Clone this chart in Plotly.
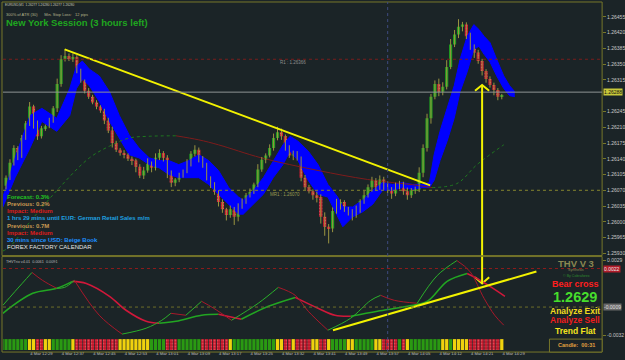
import plotly.graph_objects as go

W, H = 625, 360
BG = "#1b2427"
FONT = "Liberation Sans"

# ---------------- data ----------------
first_minute = -1
first_open = 1.26080
closes = [
    1.26098, 1.26131, 1.26164, 1.26147, 1.26186, 1.26219, 1.26256, 1.26219, 1.26190, 1.26208,
    1.26212, 1.26225, 1.26252, 1.26306, 1.26361, 1.26368, 1.26361, 1.26366, 1.26335, 1.26313,
    1.26291, 1.26278, 1.26265, 1.26256, 1.26247, 1.26225, 1.26203, 1.26175, 1.26160, 1.26153,
    1.26149, 1.26140, 1.26136, 1.26122, 1.26103, 1.26114, 1.26129, 1.26120, 1.26142, 1.26153,
    1.26142, 1.26109, 1.26087, 1.26094, 1.26103, 1.26112, 1.26131, 1.26151, 1.26160, 1.26142,
    1.26125, 1.26098, 1.26083, 1.26066, 1.26044, 1.26028, 1.26015, 1.26028, 1.26011, 1.26037,
    1.26046, 1.26059, 1.26066, 1.26083, 1.26116, 1.26138, 1.26147, 1.26164, 1.26186, 1.26199,
    1.26190, 1.26164, 1.26147, 1.26153, 1.26142, 1.26098, 1.26077, 1.26068, 1.26059, 1.26055,
    1.26011, 1.25989, 1.25985, 1.26024, 1.26037, 1.26044, 1.26028, 1.26022, 1.26015, 1.26028,
    1.26046, 1.26059, 1.26077, 1.26092, 1.26077, 1.26094, 1.26081, 1.26072, 1.26063, 1.26077,
    1.26085, 1.26068, 1.26059, 1.26070, 1.26072, 1.26109, 1.26164, 1.26230, 1.26278, 1.26306,
    1.26289, 1.26300, 1.26344, 1.26394, 1.26416, 1.26433, 1.26438, 1.26412, 1.26390, 1.26376,
    1.26357, 1.26335, 1.26317, 1.26304, 1.26293, 1.26278, 1.26280,
]
wick_hi = [  # points (0.00001) above body
    5, 8, 6, 4, 7, 5, 10, 4, 6, 5,
    4, 6, 5, 12, 9, 15, 6, 8, 4, 5,
    3, 6, 4, 5, 3, 4, 6, 8, 5, 4,
    6, 3, 5, 4, 6, 8, 12, 5, 10, 8,
    4, 6, 5, 3, 6, 4, 8, 6, 10, 5,
    4, 6, 3, 5, 4, 6, 3, 8, 5, 4,
    6, 5, 8, 4, 12, 6, 5, 8, 10, 12,
    8, 4, 6, 5, 4, 3, 6, 5, 4, 8,
    6, 10, 6, 8, 14, 6, 4, 5, 6, 8,
    4, 10, 6, 8, 5, 9, 6, 8, 5, 10,
    6, 4, 8, 5, 6, 12, 8, 10, 6, 8,
    12, 10, 15, 12, 10, 17, 6, 5, 8, 4,
    6, 5, 4, 6, 5, 4, 4,
]
wick_lo = [  # points below body
    8, 5, 6, 10, 5, 4, 6, 12, 8, 5,
    6, 4, 5, 8, 6, 5, 4, 6, 5, 4,
    6, 5, 4, 6, 5, 8, 6, 10, 5, 6,
    8, 5, 10, 12, 6, 8, 5, 10, 6, 5,
    8, 12, 10, 8, 6, 5, 4, 8, 6, 10,
    5, 6, 8, 6, 10, 8, 12, 6, 18, 10,
    8, 6, 5, 4, 6, 5, 8, 4, 6, 5,
    8, 6, 5, 10, 6, 8, 6, 5, 10, 12,
    15, 20, 33, 8, 6, 10, 6, 8, 12, 6,
    8, 6, 5, 10, 8, 6, 10, 8, 12, 6,
    5, 8, 10, 6, 8, 6, 10, 8, 12, 6,
    10, 8, 6, 5, 6, 8, 10, 6, 8, 12,
    6, 10, 8, 6, 12, 8, 6,
]

band_t = [-1.8, 1.3, 5.1, 8.1, 11.9, 15.2, 16.9, 18.4, 20.2, 22.7, 25.3, 27.8, 30.3, 32.8, 35.4,
          37.9, 40.4, 42.9, 45.5, 48.0, 50.5, 53.0, 55.6, 58.1, 59.3, 61.9, 64.4, 66.9, 69.4, 71.2,
          73.2, 75.8, 78.3, 80.8, 83.3, 84.6, 87.1, 89.6, 92.2, 94.7, 97.2, 99.7, 102.3, 104.8, 106.6,
          107.8, 109.3, 111.1, 112.9, 114.4, 116.2, 117.9, 119.2, 120.5, 122.0, 123.7, 125.5, 127.0, 128.3]
band_hi = [1.26055, 1.26142, 1.26236, 1.26252, 1.26230, 1.26296, 1.26346, 1.26357, 1.26339, 1.26324,
           1.26289, 1.26236, 1.26193, 1.26164, 1.26142, 1.26136, 1.26136, 1.26127, 1.26136, 1.26149,
           1.26136, 1.26114, 1.26076, 1.26055, 1.26048, 1.26070, 1.26098, 1.26136, 1.26171, 1.26190,
           1.26179, 1.26157, 1.26127, 1.26083, 1.26055, 1.26033, 1.26033, 1.26048, 1.26070, 1.26087,
           1.26083, 1.26087, 1.26083, 1.26083, 1.26087, 1.26149, 1.26201, 1.26252, 1.26302, 1.26361,
           1.26412, 1.26438, 1.26427, 1.26412, 1.26398, 1.26361, 1.26324, 1.26302, 1.26289]
band_lo = [1.26033, 1.26098, 1.26164, 1.26223, 1.26201, 1.26236, 1.26296, 1.26317, 1.26302, 1.26267,
           1.26223, 1.26186, 1.26149, 1.26142, 1.26127, 1.26120, 1.26105, 1.26098, 1.26098, 1.26098,
           1.26083, 1.26061, 1.26039, 1.26017, 1.26017, 1.26039, 1.26061, 1.26098, 1.26127, 1.26157,
           1.26136, 1.26092, 1.26061, 1.26055, 1.26011, 1.25989, 1.26011, 1.26022, 1.26039, 1.26070,
           1.26070, 1.26076, 1.26072, 1.26076, 1.26076, 1.26092, 1.26136, 1.26179, 1.26230, 1.26289,
           1.26333, 1.26383, 1.26390, 1.26372, 1.26355, 1.26324, 1.26296, 1.26280, 1.26278]

ma_t = [-1.8, 0, 5.1, 12.6, 20.2, 25.3, 30.3, 35.4, 42.2, 48.0, 53.0, 63.9, 78.3, 90.9, 103.5, 107.3,
        113.6, 118.7, 125.5]
ma_v = [1.25935, 1.25945, 1.26000, 1.26076, 1.26142, 1.26168, 1.26186, 1.26190, 1.26191, 1.26182,
        1.26171, 1.26142, 1.26114, 1.26094, 1.26081, 1.26076, 1.26085, 1.26127, 1.26171]

trend_t = [13.9, 106.8]
trend_p = [1.26383, 1.26081]

R1 = 1.26366
R1_LINE = 1.26361
MR1 = 1.26070
BID_LINE = 1.26288
VLINE_T = 96

ARROW_T = 120.0
ARROW_TOP = 1.26304
ARROW_BOT = 0.00103

price_ticks = [1.26455, 1.26420, 1.26385, 1.26350, 1.26315, 1.26245, 1.26210, 1.26175,
               1.26140, 1.26105, 1.26070, 1.26035, 1.26000, 1.25965, 1.25930]

fast_t = [-1.8, 1.3, 5.6, 8.3, 11.9, 13.9, 16.4, 22.7, 28.5, 34.6, 38.6, 40.9, 44.7, 48.7, 51.8,
          56.3, 63.1, 68.2, 72.5, 75.8, 80.8, 86.6, 91.7, 94.2, 97.7, 103.5, 108.6, 113.6, 116.9,
          120.5, 123.2, 125.5]
fast_v = [-0.00076, 0.00038, 0.00193, 0.00128, 0.00063, 0.00071, 0.00128, -0.00157, -0.00311,
          -0.00263, -0.00198, -0.00141, -0.00157, -0.00043, -0.00100, -0.00198, -0.00059, 0.00071,
          0.00006, -0.00124, -0.00279, -0.00181, -0.00035, 0.00006, -0.00035, -0.00059, 0.00168,
          0.00290, 0.00201, -0.00019, -0.00157, -0.00238]
slow_t = [-1.8, 5.8, 11.9, 15.9, 19.4, 25.3, 29.5, 34.6, 37.9, 42.2, 48.7, 53.0, 58.8, 65.7, 72.5,
          78.3, 82.6, 86.6, 93.4, 101.0, 106.1, 111.1, 116.2, 118.7, 122.0, 125.8]
slow_v = [-0.00141, 0.00022, 0.00063, 0.00120, 0.00103, -0.00002, -0.00116, -0.00206, -0.00222,
          -0.00206, -0.00157, -0.00149, -0.00189, -0.00084, -0.00011, -0.00100, -0.00157, -0.00165,
          -0.00124, -0.00084, -0.00043, 0.00120, 0.00185, 0.00144, 0.00079, -0.00002]
ind_trend_t = [82.1, 133.8]
ind_trend_v = [-0.00279, 0.00201]
IND_RED_LEVEL = 0.00225
IND_OLIVE_LEVEL = -0.0009
ind_ticks = [0.0029, -0.0032]

bar_first_minute = -2
bar_runs = [("G", 7), ("Y", 2), ("R", 2), ("Y", 2), ("G", 5), ("Y", 1), ("R", 11), ("Y", 8),
            ("G", 4), ("R", 3), ("G", 6), ("R", 7), ("Y", 1), ("G", 11), ("Y", 2), ("R", 2),
            ("Y", 1), ("R", 4), ("Y", 2), ("R", 2), ("Y", 1), ("G", 4), ("Y", 2), ("G", 5),
            ("Y", 2), ("R", 4), ("G", 1), ("R", 1), ("Y", 1), ("G", 8), ("Y", 2), ("G", 1),
            ("Y", 4), ("R", 8), ("Y", 1)]

label_t = [0, 8, 16, 24, 32, 40, 48, 56, 64, 72, 80, 88, 96, 104, 112, 120, 128]
label_text = ["4 Mar 2009", "4 Mar 12:29", "4 Mar 12:37", "4 Mar 12:45", "4 Mar 12:53",
              "4 Mar 13:01", "4 Mar 13:09", "4 Mar 13:17", "4 Mar 13:25", "4 Mar 13:32",
              "4 Mar 13:41", "4 Mar 13:49", "4 Mar 13:57", "4 Mar 14:05", "4 Mar 14:12",
              "4 Mar 14:21", "4 Mar 14:29"]

# ---------------- geometry helpers ----------------
def px(x):
    return x / W

def py(y):
    return 1 - y / H

X_RANGE = [-1.77, 150.5]
Y_RANGE = [1.25925, 1.26486]
Y2_RANGE = [-0.003276, 0.003228]
XDOM = [px(3), px(606)]

fig = go.Figure()

def segs(t, v, up_c, dn_c, width, xa, ya, up_dash="solid", dn_dash="solid", shape="linear"):
    out = []
    i, n = 0, len(t)
    while i < n - 1:
        up = v[i + 1] >= v[i]
        j = i + 1
        while j < n - 1 and (v[j + 1] >= v[j]) == up:
            j += 1
        out.append(go.Scatter(x=t[i:j + 1], y=v[i:j + 1], mode="lines", xaxis=xa, yaxis=ya,
                              line=dict(color=up_c if up else dn_c, width=width,
                                        dash=up_dash if up else dn_dash, shape=shape),
                              hoverinfo="skip", showlegend=False))
        i = j
    return out

# blue band
fig.add_trace(go.Scatter(x=band_t, y=band_lo, mode="lines", line=dict(color="#0000ff", width=1),
                         hoverinfo="skip", showlegend=False))
fig.add_trace(go.Scatter(x=band_t, y=band_hi, mode="lines", line=dict(color="#0000ff", width=1),
                         fill="tonexty", fillcolor="#0000ff", hoverinfo="skip", showlegend=False))

# moving average
for tr in segs(ma_t, ma_v, "#1f7a1f", "#7e1c1c", 1, "x", "y", up_dash="dot", shape="spline"):
    fig.add_trace(tr)

# candles
minutes = list(range(first_minute, first_minute + len(closes)))
opens = [first_open] + closes[:-1]
highs = [max(o, c) + w * 1e-5 for o, c, w in zip(opens, closes, wick_hi)]
lows = [min(o, c) - w * 1e-5 for o, c, w in zip(opens, closes, wick_lo)]
wx, wy = [], []
for m, lo, hi in zip(minutes, lows, highs):
    wx += [m, m, None]
    wy += [lo, hi, None]
fig.add_trace(go.Scatter(x=wx, y=wy, mode="lines", line=dict(color="#9a9440", width=1),
                         hoverinfo="skip", showlegend=False))

up = [(m, o, c) for m, o, c in zip(minutes, opens, closes) if c >= o]
dn = [(m, o, c) for m, o, c in zip(minutes, opens, closes) if c < o]
fig.add_trace(go.Bar(x=[u[0] for u in up], base=[u[1] for u in up],
                     y=[max(u[2] - u[1], 0.000015) for u in up], width=0.8,
                     marker=dict(color="#20a020", line=dict(width=0)),
                     hoverinfo="skip", showlegend=False))
fig.add_trace(go.Bar(x=[d[0] for d in dn], base=[d[2] for d in dn],
                     y=[max(d[1] - d[2], 0.000015) for d in dn], width=0.8,
                     marker=dict(color="#d0162e", line=dict(width=0),
                                 pattern=dict(shape=".", fgcolor="#ff9090", size=3, solidity=0.2,
                                              fillmode="overlay")),
                     hoverinfo="skip", showlegend=False))

# trend line
fig.add_trace(go.Scatter(x=trend_t, y=trend_p, mode="lines", line=dict(color="#f2f200", width=2),
                         hoverinfo="skip", showlegend=False))

# arrow chevrons
fig.add_trace(go.Scatter(x=[ARROW_T - 1.8, ARROW_T, ARROW_T + 1.8],
                         y=[ARROW_TOP - 0.00013, ARROW_TOP, ARROW_TOP - 0.00013],
                         mode="lines", line=dict(color="#f2f200", width=2),
                         hoverinfo="skip", showlegend=False))
fig.add_trace(go.Scatter(x=[ARROW_T - 1.8, ARROW_T, ARROW_T + 1.8],
                         y=[ARROW_BOT + 0.0005, ARROW_BOT, ARROW_BOT + 0.0005],
                         xaxis="x2", yaxis="y2",
                         mode="lines", line=dict(color="#f2f200", width=2),
                         hoverinfo="skip", showlegend=False))

# indicator lines
for tr in segs(slow_t, slow_v, "#22a622", "#d0183a", 1.6, "x2", "y2", shape="spline"):
    fig.add_trace(tr)
for tr in segs(fast_t, fast_v, "#2bb02b", "#a8182a", 1, "x2", "y2", shape="spline"):
    fig.add_trace(tr)
fig.add_trace(go.Scatter(x=ind_trend_t, y=ind_trend_v, mode="lines", xaxis="x2", yaxis="y2",
                         line=dict(color="#f2f200", width=2), hoverinfo="skip", showlegend=False))

# colour bar row
states = []
for s, n in bar_runs:
    states += [s] * n
bar_t = list(range(bar_first_minute, bar_first_minute + len(states)))
for code, col in (("G", "#2a9a12"), ("Y", "#f0d20e")):
    xs = [t for t, s in zip(bar_t, states) if s == code]
    fig.add_trace(go.Bar(x=xs, y=[1] * len(xs), base=0, width=0.82, xaxis="x3", yaxis="y3",
                         marker=dict(color=col, line=dict(width=0)),
                         hoverinfo="skip", showlegend=False))
xs = [t for t, s in zip(bar_t, states) if s == "R"]
fig.add_trace(go.Bar(x=xs, y=[1] * len(xs), base=0, width=0.82, xaxis="x3", yaxis="y3",
                     marker=dict(color="#c01428", line=dict(width=0),
                                 pattern=dict(shape=".", fgcolor="#ff8c8c", size=3, solidity=0.3,
                                              fillmode="overlay")),
                     hoverinfo="skip", showlegend=False))

# ---------------- shapes ----------------
OLIVE = "#77772a"
shapes = [
    dict(type="rect", xref="paper", yref="paper", x0=px(2), x1=px(606), y0=py(257), y1=py(2),
         line=dict(color=OLIVE, width=1)),
    dict(type="rect", xref="paper", yref="paper", x0=px(2), x1=px(606), y0=py(354), y1=py(258),
         line=dict(color=OLIVE, width=1)),
    dict(type="line", xref="x domain", yref="y", x0=0, x1=1, y0=R1_LINE, y1=R1_LINE,
         line=dict(color="#7a1c1c", width=1, dash="dot")),
    dict(type="line", xref="x domain", yref="y", x0=0, x1=1, y0=MR1, y1=MR1,
         line=dict(color="#86862e", width=1, dash="dot")),
    dict(type="line", xref="x domain", yref="y", x0=0, x1=1, y0=BID_LINE, y1=BID_LINE,
         line=dict(color="#8e9494", width=1)),
    dict(type="line", xref="x", yref="paper", x0=VLINE_T, x1=VLINE_T, y0=py(354), y1=py(2),
         line=dict(color="#3e4a80", width=1, dash="dot")),
    dict(type="line", xref="x2 domain", yref="y2", x0=0, x1=1, y0=IND_RED_LEVEL, y1=IND_RED_LEVEL,
         line=dict(color="#8e1c1c", width=1, dash="dot")),
    dict(type="line", xref="x2 domain", yref="y2", x0=0, x1=1, y0=IND_OLIVE_LEVEL, y1=IND_OLIVE_LEVEL,
         line=dict(color="#6e6e28", width=1, dash="dot")),
    dict(type="line", xref="x", yref="y", x0=ARROW_T, x1=ARROW_T, y0=ARROW_TOP, y1=Y_RANGE[0],
         line=dict(color="#f2f200", width=2)),
    dict(type="line", xref="x2", yref="y2", x0=ARROW_T, x1=ARROW_T, y0=ARROW_BOT, y1=Y2_RANGE[1],
         line=dict(color="#f2f200", width=2)),
    dict(type="rect", xref="paper", yref="paper", x0=px(553), x1=px(606), y0=py(354), y1=py(341),
         line=dict(color=OLIVE, width=1), fillcolor=BG),
]

# ---------------- annotations ----------------
def txt(x, y, s, size, color, bold=False, xanchor="left"):
    return dict(x=px(x), y=py(y), xref="paper", yref="paper", showarrow=False,
                text=f"<b>{s}</b>" if bold else s, xanchor=xanchor, yanchor="middle",
                font=dict(size=size, color=color, family=FONT))

GREEN_T = "#22c322"
TAN = "#c89a52"
RED_T = "#dd1c1c"
ann = [
    txt(3, 5, "EURUSD,M1  1.26277 1.26280 1.26277 1.26280", 3.2, "#c8c8b4"),
    txt(4, 15, "300% of ATR (30)      Min. Stop Loss:   12 pips", 4, "#b4b48c"),
    txt(4, 23, "New York Session (3 hours left)", 9.5, "#1fa61f", bold=True),
    txt(5, 198, "Forecast: 0.3%", 6, GREEN_T, bold=True),
    txt(5, 205, "Previous: 0.2%", 6, TAN, bold=True),
    txt(5, 212, "Impact: Medium", 6, RED_T, bold=True),
    txt(5, 219, "1 hrs 29 mins until EUR: German Retail Sales m/m", 6, "#1ea0e0", bold=True),
    txt(5, 227, "Previous: 0.7M", 6, TAN, bold=True),
    txt(5, 234, "Impact: Medium", 6, RED_T, bold=True),
    txt(5, 241, "30 mins since USD: Beige Book", 6, "#1e90ff", bold=True),
    txt(5, 248, "FOREX FACTORY CALENDAR", 6, "#e4e4e4"),
    txt(4, 263, "THVTrix v4.01  0.0061  0.0091", 3.8, "#b8b8b8"),
    txt(580, 265, "THV V 3", 9.5, "#8a8852", bold=True, xanchor="center"),
    txt(580, 272, "Synthesis", 3.6, "#8a8852", xanchor="center"),
    txt(580, 277.5, "© By Cobraforex", 3.6, "#2e8b2e", xanchor="center"),
    txt(579, 285.5, "Bear cross", 9, "#ff1e1e", bold=True, xanchor="center"),
    txt(579, 299, "1.2629", 14.5, "#46de2c", bold=True, xanchor="center"),
    txt(579, 313, "Analyze Exit", 8.5, "#f2da1e", bold=True, xanchor="center"),
    txt(579, 322, "Analyze Sell", 8.5, "#ee1c1c", bold=True, xanchor="center"),
    txt(579, 333, "Trend Flat", 8.5, "#f4e41e", bold=True, xanchor="center"),
    txt(580, 347, "Candle:  00:31", 5.5, "#e2a040", bold=True, xanchor="center"),
    dict(x=72, y=R1_LINE, xref="x", yref="y", showarrow=False, text=f"R1 : {R1:.5f}",
         yshift=-3, font=dict(size=4.5, color="#8e8e8e", family=FONT)),
    dict(x=70, y=MR1, xref="x", yref="y", showarrow=False, text=f"MR1 : {MR1:.5f}",
         yshift=-4, font=dict(size=4.5, color="#9a9a52", family=FONT)),
    dict(x=px(607), y=BID_LINE, xref="paper", yref="y", showarrow=False, text=f"{BID_LINE:.5f}",
         xanchor="left", bgcolor="#c8c83a", borderpad=0,
         font=dict(size=5, color="#101010", family=FONT)),
    dict(x=px(607), y=IND_RED_LEVEL, xref="paper", yref="y2", showarrow=False,
         text=f"{IND_RED_LEVEL:.4f}", xanchor="left", bgcolor="#b01c2a", borderpad=0,
         font=dict(size=5, color="#e8e8e8", family=FONT)),
    dict(x=px(607), y=IND_OLIVE_LEVEL, xref="paper", yref="y2", showarrow=False,
         text=f"{IND_OLIVE_LEVEL:.4f}", xanchor="left", bgcolor="#686868", borderpad=0,
         font=dict(size=5, color="#e0e0e0", family=FONT)),
]

tickfont = dict(size=5, color="#c8c8c8", family=FONT)
fig.update_layout(
    width=W, height=H, margin=dict(l=0, r=0, t=0, b=0),
    paper_bgcolor=BG, plot_bgcolor=BG, barmode="overlay", showlegend=False,
    xaxis=dict(domain=XDOM, range=X_RANGE, anchor="y", showticklabels=False, showgrid=False,
               zeroline=False, ticks=""),
    yaxis=dict(domain=[py(257), py(3)], range=Y_RANGE, side="right", anchor="x",
               tickvals=price_ticks, ticktext=[f"{v:.5f}" for v in price_ticks],
               tickfont=tickfont, ticks="outside", ticklen=3, tickcolor=OLIVE,
               showgrid=False, zeroline=False),
    xaxis2=dict(domain=XDOM, range=X_RANGE, anchor="y2", matches="x", showticklabels=False,
                showgrid=False, zeroline=False, ticks=""),
    yaxis2=dict(domain=[py(338), py(258)], range=Y2_RANGE, side="right", anchor="x2",
                tickvals=ind_ticks, ticktext=[f"{v:.4f}" for v in ind_ticks],
                tickfont=tickfont, ticks="outside", ticklen=3, tickcolor=OLIVE,
                showgrid=False, zeroline=False),
    xaxis3=dict(domain=XDOM, range=X_RANGE, anchor="y3", matches="x",
                tickvals=label_t, ticktext=label_text, tickfont=dict(size=4.2, color="#c0c0c0", family=FONT),
                ticks="", showgrid=False, zeroline=False, tickangle=0),
    yaxis3=dict(domain=[py(352), py(341)], range=[0, 1], anchor="x3", visible=False),
    shapes=shapes, annotations=ann,
)

fig.write_html("out.html", include_plotlyjs=True, config={"displayModeBar": False})
